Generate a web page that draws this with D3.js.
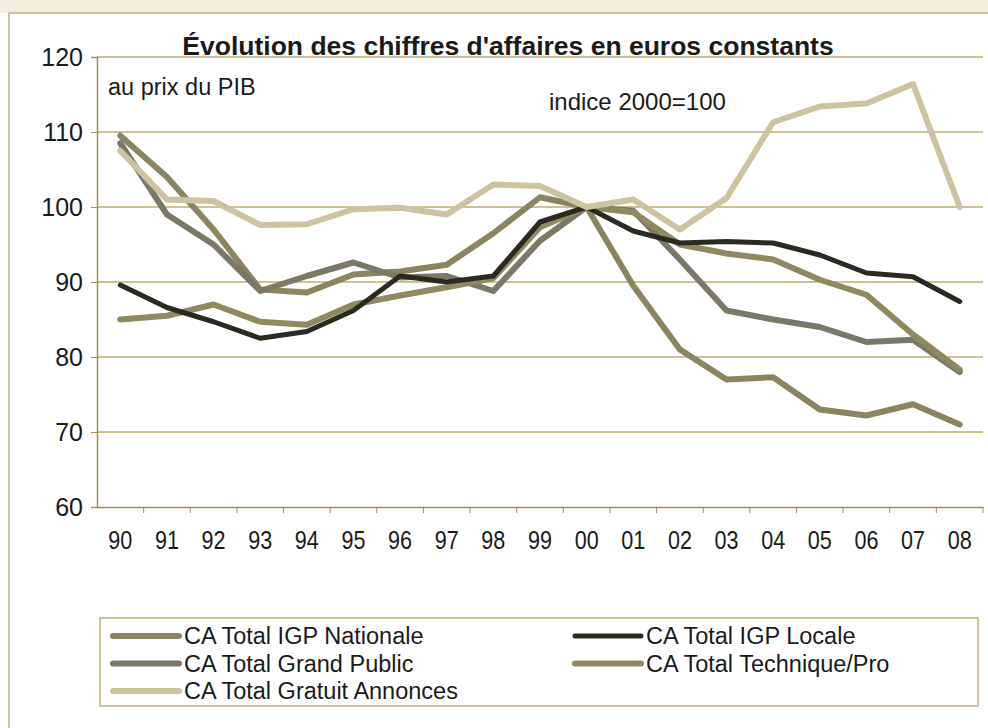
<!DOCTYPE html>
<html>
<head>
<meta charset="utf-8">
<script src="https://d3js.org/d3.v7.min.js"></script>
<style>
  body { margin: 0; background: #ffffff; }
  text { font-family: "Liberation Sans", Arial, sans-serif; fill: #1a1a1a; }
</style>
</head>
<body>
<script>
// Data
var years = ["90", "91", "92", "93", "94", "95", "96", "97", "98", "99", "00", "01", "02", "03", "04", "05", "06", "07", "08"];
var igpNationale = [109.5, 104, 97, 89, 88.6, 91, 91.4, 92.3, 96.5, 101.3, 100, 89.5, 81, 77, 77.3, 73, 72.2, 73.7, 71];
var igpLocale = [89.6, 86.6, 84.7, 82.5, 83.4, 86.2, 90.8, 90, 90.8, 98, 100, 96.8, 95.2, 95.4, 95.2, 93.6, 91.2, 90.7, 87.4];
var grandPublic = [108.5, 99, 95, 88.8, 90.8, 92.6, 90.6, 90.8, 88.8, 95.5, 100, 99.5, 93, 86.2, 85, 84, 82, 82.3, 78];
var techniquePro = [85, 85.5, 87, 84.7, 84.3, 87, 88.2, 89.3, 90.5, 97.3, 100, 99.3, 95, 93.8, 93, 90.3, 88.3, 83, 78.3];
var gratuitAnnonces = [107.5, 101, 100.8, 97.6, 97.7, 99.7, 99.9, 99, 103, 102.8, 100, 101, 97, 101.2, 111.3, 113.4, 113.8, 116.4, 100];
var yTicks = [60, 70, 80, 90, 100, 110, 120];

var series = [
  { name: "CA Total IGP Nationale", values: igpNationale, color: "#8a8460", width: 6 },
  { name: "CA Total Grand Public", values: grandPublic, color: "#7b7867", width: 6 },
  { name: "CA Total Technique/Pro", values: techniquePro, color: "#8f8861", width: 6 },
  { name: "CA Total IGP Locale", values: igpLocale, color: "#2b2a22", width: 5 },
  { name: "CA Total Gratuit Annonces", values: gratuitAnnonces, color: "#cdc3a2", width: 6 }
];

var svgWidth = 988;
var svgHeight = 728;

var chartMargin = { top: 57, right: 5, bottom: 221, left: 97 };
var chartWidth = svgWidth - chartMargin.left - chartMargin.right;
var chartHeight = svgHeight - chartMargin.top - chartMargin.bottom;

var svg = d3.select("body")
  .append("svg")
  .attr("width", svgWidth)
  .attr("height", svgHeight);

// faint beige strip above the frame
svg.append("rect")
  .attr("x", 0).attr("y", 0)
  .attr("width", svgWidth).attr("height", 13)
  .attr("fill", "#f3ede0");

// outer frame
svg.append("rect")
  .attr("x", 9).attr("y", 13)
  .attr("width", svgWidth).attr("height", svgHeight)
  .attr("fill", "#ffffff")
  .attr("stroke", "#bfae7c")
  .attr("stroke-width", 1.5);

var chartGroup = svg.append("g")
  .attr("transform", `translate(${chartMargin.left}, ${chartMargin.top})`);

var xScale = d3.scaleBand()
  .domain(years)
  .range([0, 886]);

var yScale = d3.scaleLinear()
  .domain([60, 120])
  .range([chartHeight, 0]);

// gridlines
chartGroup.selectAll(".grid")
  .data(yTicks.filter(d => d > 60))
  .enter()
  .append("line")
  .attr("x1", 0)
  .attr("x2", 886)
  .attr("y1", d => yScale(d))
  .attr("y2", d => yScale(d))
  .attr("stroke", "#bcae70")
  .attr("stroke-width", 1.3);

// y axis
var yAxis = d3.axisLeft(yScale).tickValues(yTicks).tickSize(6).tickPadding(8);
var yAxisGroup = chartGroup.append("g").call(yAxis);
yAxisGroup.select(".domain").attr("stroke", "#a48e55").attr("stroke-width", 1.5);
yAxisGroup.selectAll(".tick line").attr("stroke", "#a48e55");
yAxisGroup.selectAll("text")
  .style("font-size", "25px")
  .style("font-family", "'Liberation Sans', Arial, sans-serif")
  .attr("fill", "#1a1a1a");

// x axis with ticks on band edges; labels are tall and narrow in the original
var xAxis = d3.axisBottom(xScale).tickSize(0).tickPadding(24);
var xAxisGroup = chartGroup.append("g")
  .attr("transform", `translate(0, ${chartHeight})`)
  .call(xAxis);
xAxisGroup.select(".domain").attr("stroke", "#a48e55").attr("stroke-width", 1.5);
xAxisGroup.selectAll("text")
  .style("font-size", "26px")
  .style("font-family", "'Liberation Sans', Arial, sans-serif")
  .attr("textLength", 24)
  .attr("lengthAdjust", "spacingAndGlyphs")
  .attr("fill", "#1a1a1a");

chartGroup.selectAll(".xtick")
  .data(years)
  .enter()
  .append("line")
  .attr("x1", d => xScale(d) + xScale.bandwidth())
  .attr("x2", d => xScale(d) + xScale.bandwidth())
  .attr("y1", chartHeight)
  .attr("y2", chartHeight + 6)
  .attr("stroke", "#a48e55");

// lines
var line = d3.line()
  .x((d, i) => xScale(years[i]) + xScale.bandwidth() / 2)
  .y(d => yScale(d))
  .curve(d3.curveLinear);

chartGroup.selectAll(".series")
  .data(series)
  .enter()
  .append("path")
  .attr("d", d => line(d.values))
  .attr("fill", "none")
  .attr("stroke", d => d.color)
  .attr("stroke-width", d => d.width)
  .attr("stroke-linejoin", "round")
  .attr("stroke-linecap", "round");

// titles
svg.append("text")
  .attr("x", 508)
  .attr("y", 55)
  .attr("text-anchor", "middle")
  .style("font-size", "26.5px")
  .style("font-weight", "bold")
  .text("Évolution des chiffres d'affaires en euros constants");

svg.append("text")
  .attr("x", 108)
  .attr("y", 95)
  .style("font-size", "23.5px")
  .text("au prix du PIB");

svg.append("text")
  .attr("x", 549)
  .attr("y", 110)
  .style("font-size", "24px")
  .text("indice 2000=100");

// legend
var legendGroup = svg.append("g");
legendGroup.append("rect")
  .attr("x", 100).attr("y", 618)
  .attr("width", 878).attr("height", 88)
  .attr("fill", "none")
  .attr("stroke", "#bfae7c")
  .attr("stroke-width", 1.5);

var legendOrder = [series[0], series[3], series[1], series[2], series[4]];
var legendItems = legendGroup.selectAll(".legend-item")
  .data(legendOrder)
  .enter()
  .append("g")
  .attr("transform", (d, i) => `translate(${i % 2 === 0 ? 113 : 575}, ${636 + Math.floor(i / 2) * 27.5})`);

legendItems.append("line")
  .attr("x1", 0).attr("x2", 66)
  .attr("y1", 0).attr("y2", 0)
  .attr("stroke", d => d.color)
  .attr("stroke-width", d => d.width)
  .attr("stroke-linecap", "round");

legendItems.append("text")
  .attr("x", 71)
  .attr("y", 8)
  .style("font-size", "23.5px")
  .text(d => d.name);
</script>
</body>
</html>
